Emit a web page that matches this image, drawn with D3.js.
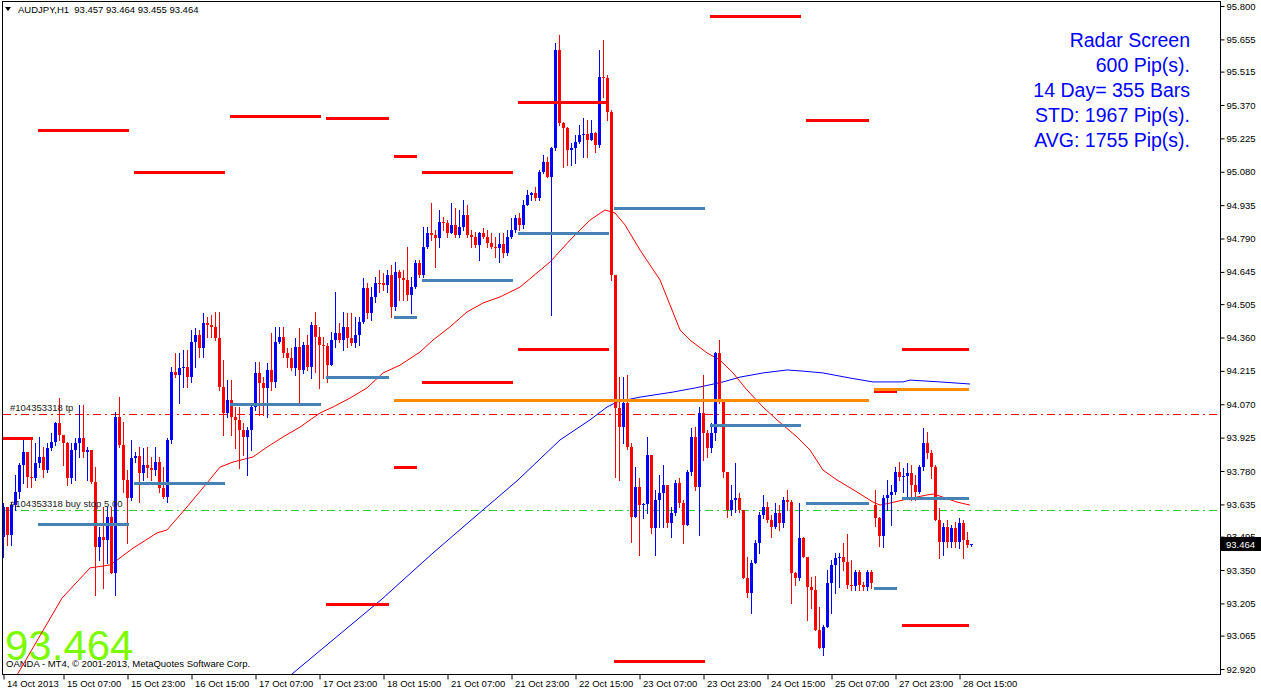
<!DOCTYPE html>
<html><head><meta charset="utf-8">
<script src="https://cdn.jsdelivr.net/npm/d3@7"></script>
<style>
html,body{margin:0;padding:0;background:#fff;}
svg{display:block;}
text{font-family:"Liberation Sans",Arial,sans-serif;}
</style></head><body>
<svg id="c" width="1261" height="691"></svg>
<script>
// ---------- DATA (AUDJPY H1) ----------
const opens = [93.494,93.624,93.502,93.632,93.689,93.806,93.863,93.754,93.750,93.815,93.841,93.784,93.880,93.906,93.989,93.937,93.902,93.750,93.871,93.902,93.924,93.863,93.871,93.732,93.450,93.494,93.480,93.580,93.337,94.015,93.893,93.741,93.663,93.837,93.845,93.771,93.806,93.793,93.784,93.819,93.706,93.667,93.915,94.210,94.197,94.227,94.232,94.188,94.340,94.371,94.314,94.423,94.414,94.406,94.358,94.145,94.032,94.088,94.015,94.002,93.958,93.928,93.958,94.058,94.206,94.162,94.141,94.219,94.167,94.340,94.362,94.293,94.271,94.227,94.319,94.219,94.327,94.232,94.414,94.362,94.327,94.325,94.240,94.349,94.380,94.349,94.406,94.358,94.336,94.371,94.427,94.575,94.466,94.536,94.597,94.595,94.588,94.631,94.492,94.644,94.618,94.610,94.545,94.579,94.684,94.631,94.753,94.814,94.805,94.792,94.862,94.857,94.814,94.849,94.805,94.840,94.892,94.805,94.796,94.762,94.814,94.796,94.770,94.753,94.749,94.766,94.727,94.796,94.827,94.879,94.849,94.936,94.979,94.988,94.966,95.079,95.122,95.057,95.183,95.609,95.292,95.270,95.174,95.183,95.209,95.240,95.244,95.218,95.248,95.196,95.492,95.487,95.339,94.631,94.054,93.971,94.075,93.884,93.580,93.710,93.632,93.636,93.850,93.532,93.654,93.684,93.719,93.554,93.598,93.728,93.641,93.546,93.776,93.928,93.710,94.032,93.945,93.880,93.945,94.293,94.080,93.776,93.611,93.654,93.663,93.611,93.315,93.250,93.380,93.467,93.589,93.624,93.567,93.537,93.598,93.554,93.654,93.645,93.337,93.315,93.489,93.406,93.276,93.263,93.089,93.011,93.102,93.293,93.372,93.402,93.406,93.385,93.285,93.280,93.341,93.285,93.276,93.341,93.632,93.576,93.498,93.663,93.676,93.689,93.776,93.754,93.758,93.771,93.719,93.689,93.797,93.902,93.858,93.797,93.567,93.472,93.537,93.472,93.532,93.472,93.554,93.480,93.457];
const highs = [93.641,93.624,93.645,93.762,93.815,93.924,93.863,93.924,93.902,93.928,93.884,93.902,93.945,93.993,94.097,93.937,93.906,93.902,93.924,94.067,94.067,93.884,93.871,93.797,93.537,93.624,93.624,93.624,94.036,94.102,93.993,93.784,93.915,93.863,93.884,93.880,93.884,93.841,93.884,93.841,93.797,93.924,94.232,94.293,94.293,94.306,94.306,94.393,94.401,94.393,94.466,94.449,94.458,94.471,94.471,94.262,94.175,94.175,94.058,94.058,93.989,93.971,94.075,94.253,94.253,94.188,94.249,94.380,94.406,94.406,94.406,94.314,94.314,94.358,94.401,94.340,94.371,94.427,94.471,94.406,94.362,94.336,94.384,94.558,94.423,94.471,94.466,94.466,94.449,94.449,94.618,94.597,94.579,94.623,94.653,94.640,94.653,94.675,94.688,94.653,94.653,94.753,94.623,94.697,94.697,94.840,94.840,94.944,94.827,94.914,94.883,94.870,94.944,94.922,94.914,94.957,94.935,94.827,94.818,94.818,94.836,94.827,94.814,94.796,94.814,94.814,94.827,94.879,94.892,94.901,94.957,95.001,94.992,95.014,95.088,95.153,95.144,95.187,95.639,95.674,95.296,95.274,95.205,95.240,95.283,95.313,95.305,95.305,95.253,95.609,95.652,95.500,95.348,94.631,94.188,94.188,94.197,93.902,93.797,93.750,93.641,93.928,93.850,93.697,93.762,93.806,93.719,93.624,93.741,93.750,93.654,93.784,93.967,93.971,94.058,94.197,93.958,93.989,94.297,94.349,94.088,93.776,93.719,93.815,93.684,93.611,93.406,93.393,93.480,93.602,93.676,93.645,93.589,93.641,93.632,93.667,93.697,93.654,93.341,93.641,93.494,93.406,93.320,93.324,93.189,93.111,93.350,93.393,93.424,93.424,93.467,93.506,93.393,93.350,93.350,93.298,93.350,93.350,93.697,93.580,93.676,93.741,93.719,93.797,93.819,93.793,93.815,93.806,93.762,93.806,93.967,93.950,93.871,93.806,93.619,93.554,93.567,93.546,93.559,93.576,93.567,93.515,93.464];
const lows = [93.407,93.459,93.459,93.611,93.663,93.728,93.710,93.710,93.741,93.797,93.754,93.776,93.871,93.893,93.915,93.806,93.719,93.728,93.741,93.841,93.841,93.741,93.728,93.242,93.393,93.272,93.380,93.337,93.242,93.884,93.689,93.467,93.654,93.819,93.645,93.741,93.754,93.741,93.762,93.689,93.663,93.645,93.902,94.188,94.075,94.145,94.145,94.167,94.232,94.275,94.275,94.362,94.362,94.349,94.132,93.937,94.015,93.937,93.880,93.793,93.850,93.762,93.871,94.045,94.023,94.023,94.015,94.132,94.145,94.336,94.275,94.232,94.219,94.197,94.080,94.206,94.219,94.184,94.210,94.141,94.184,94.167,94.240,94.319,94.340,94.306,94.319,94.327,94.319,94.327,94.423,94.445,94.436,94.514,94.558,94.566,94.558,94.449,94.480,94.523,94.523,94.523,94.466,94.575,94.623,94.623,94.749,94.783,94.666,94.753,94.827,94.796,94.814,94.796,94.796,94.827,94.796,94.753,94.753,94.697,94.792,94.753,94.749,94.710,94.688,94.710,94.718,94.792,94.818,94.827,94.836,94.936,94.957,94.957,94.957,95.075,95.057,94.458,95.174,95.283,95.101,95.109,95.109,95.118,95.205,95.144,95.144,95.218,95.166,95.187,95.405,95.305,94.610,93.754,93.741,93.902,93.876,93.472,93.580,93.415,93.576,93.598,93.511,93.415,93.537,93.537,93.537,93.494,93.589,93.624,93.467,93.546,93.762,93.697,93.502,93.828,93.841,93.863,93.915,94.075,93.754,93.580,93.589,93.602,93.602,93.315,93.233,93.163,93.380,93.424,93.576,93.559,93.494,93.532,93.524,93.537,93.611,93.207,93.285,93.306,93.406,93.133,93.185,93.089,93.011,92.981,93.102,93.163,93.250,93.276,93.350,93.272,93.263,93.263,93.263,93.263,93.263,93.272,93.541,93.454,93.450,93.611,93.546,93.680,93.741,93.689,93.667,93.654,93.654,93.684,93.784,93.837,93.750,93.567,93.402,93.415,93.450,93.450,93.450,93.446,93.402,93.450,93.455];
const closes = [93.624,93.502,93.632,93.689,93.806,93.863,93.754,93.750,93.815,93.841,93.784,93.880,93.906,93.989,93.937,93.902,93.750,93.871,93.902,93.924,93.863,93.871,93.732,93.450,93.494,93.480,93.580,93.337,94.015,93.893,93.741,93.663,93.837,93.845,93.771,93.806,93.793,93.784,93.819,93.706,93.667,93.915,94.210,94.197,94.227,94.232,94.188,94.340,94.371,94.314,94.423,94.414,94.406,94.358,94.145,94.032,94.088,94.015,94.002,93.958,93.928,93.958,94.058,94.206,94.162,94.141,94.219,94.167,94.340,94.362,94.293,94.271,94.227,94.319,94.219,94.327,94.232,94.414,94.362,94.327,94.325,94.240,94.349,94.380,94.349,94.406,94.358,94.336,94.371,94.427,94.575,94.466,94.536,94.597,94.595,94.588,94.631,94.492,94.644,94.618,94.610,94.545,94.579,94.684,94.631,94.753,94.814,94.805,94.792,94.862,94.857,94.814,94.849,94.805,94.840,94.892,94.805,94.796,94.762,94.814,94.796,94.770,94.753,94.749,94.766,94.727,94.796,94.827,94.879,94.849,94.936,94.979,94.988,94.966,95.079,95.122,95.057,95.183,95.609,95.292,95.270,95.174,95.183,95.209,95.240,95.244,95.218,95.248,95.196,95.492,95.487,95.339,94.631,94.054,93.971,94.075,93.884,93.580,93.710,93.632,93.636,93.850,93.532,93.654,93.684,93.719,93.554,93.598,93.728,93.641,93.546,93.776,93.928,93.710,94.032,93.945,93.880,93.945,94.293,94.080,93.776,93.611,93.654,93.663,93.611,93.315,93.250,93.380,93.467,93.589,93.624,93.567,93.537,93.598,93.554,93.654,93.645,93.337,93.315,93.489,93.406,93.276,93.263,93.089,93.011,93.102,93.293,93.372,93.402,93.406,93.385,93.285,93.280,93.341,93.285,93.276,93.341,93.293,93.576,93.498,93.663,93.676,93.689,93.776,93.754,93.758,93.771,93.719,93.689,93.797,93.902,93.858,93.797,93.567,93.472,93.537,93.472,93.532,93.472,93.554,93.480,93.457,93.464];

// moving averages (bar position, price)
const maRedBars   = [1.25,4.25,13,14.75,21.75,26.75,28.5,32.5,38.5,41,46,51,54.25,57.5,62.5,66,70,74.25,79.25,82.5,86.75,91,95,99.25,104.25,107.5,111.75,116,120,124.25,129.25,136.75,141.75,146.75,150.5,153,155.5,159.25,164.25,169.25,171.75,176,179.25,182.5,186,190,193.5,198.5,201.75,205,208.5,213.5,217.5,219.25,221.75,225,228.5,231,232.5,234.25,238.5,241.75];
const maRedValues = [92.829,92.916,93.176,93.228,93.359,93.372,93.393,93.445,93.511,93.524,93.624,93.728,93.797,93.819,93.841,93.884,93.928,93.971,94.032,94.058,94.097,94.141,94.206,94.240,94.297,94.349,94.406,94.471,94.510,94.536,94.579,94.688,94.783,94.870,94.914,94.901,94.849,94.740,94.610,94.393,94.349,94.293,94.262,94.206,94.132,94.058,94.002,93.928,93.871,93.784,93.741,93.689,93.645,93.632,93.641,93.654,93.667,93.676,93.680,93.671,93.645,93.632];
const maBlueBars   = [71.75,72.5,94.75,107.5,120,128.75,139.25,146.75,151,153.5,159.25,167.5,174.25,180,184.25,190,196,200,205,211.75,217.5,225,226.75,234.25,241.75];
const maBlueValues = [92.889,92.902,93.224,93.424,93.611,93.741,93.915,94.002,94.058,94.080,94.101,94.123,94.145,94.167,94.188,94.206,94.219,94.214,94.206,94.184,94.167,94.167,94.175,94.167,94.158];

// daily radar levels
const dayStart = [0,9,33,57,81,98,105,129,153,177,201,218,225];
const dayEnd   = [7,31,55,79,96,103,127,151,175,199,216,223,241];
const dayHigh  = [93.924,95.261,95.079,95.322,95.313,95.148,95.079,95.383,null,95.756,95.305,null,94.310];
const dayLow   = [null,null,null,null,93.202,93.797,94.167,94.310,92.955,null,null,94.127,93.111];
const dayMid   = [null,93.550,93.728,94.071,94.188,94.449,94.610,94.814,94.922,93.980,93.641,93.272,93.663];
const orangeStart = [98,218];
const orangeEnd   = [216,241];
const orangeValue = [94.088,94.136];

const tpLevel = 94.028, buyStopLevel = 93.609;
const lastPrice = "93.464";

const priceTicks = ["95.800","95.655","95.515","95.370","95.225","95.080","94.935","94.790","94.645","94.505","94.360","94.215","94.070","93.925","93.780","93.635","93.495","93.350","93.205","93.065","92.920"];
const timeTickBars = [0,15,31,47,63,79,95,111,127,143,159,175,191,207,223,239];
const timeTickLabels = ["14 Oct 2013","15 Oct 07:00","15 Oct 23:00","16 Oct 15:00","17 Oct 07:00","17 Oct 23:00","18 Oct 15:00","21 Oct 07:00","21 Oct 23:00","22 Oct 15:00","23 Oct 07:00","23 Oct 23:00","24 Oct 15:00","25 Oct 07:00","27 Oct 23:00","28 Oct 15:00"];
const radarLines = ["Radar Screen","600 Pip(s).","14 Day= 355 Bars","STD: 1967 Pip(s).","AVG: 1755 Pip(s)."];
const headerText = "AUDJPY,H1  93.457 93.464 93.455 93.464";

// ---------- DRAW ----------
const svg = d3.select("#c");
const L = 3, R = 1220, T = 2, B = 674;
const x = d3.scaleLinear().domain([0, 242]).range([3, 971]);
const y = d3.scaleLinear().domain([92.920, 95.800]).range([669, 6]);

svg.append("defs").append("clipPath").attr("id","plot")
  .append("rect").attr("x",L).attr("y",T).attr("width",R-L).attr("height",B-T);

// background texts (under chart lines)
svg.append("text").attr("x",5).attr("y",660).attr("font-size","42px").attr("fill","#7CFC00").text(lastPrice);
svg.append("text").attr("x",6).attr("y",667).attr("font-size","9.5px").attr("fill","#000")
  .text("OANDA - MT4, \u00A9 2001-2013, MetaQuotes Software Corp.");

const plot = svg.append("g").attr("clip-path","url(#plot)");

// trade level lines
plot.append("line").attr("x1",L).attr("x2",R).attr("y1",Math.round(y(tpLevel))+0.5).attr("y2",Math.round(y(tpLevel))+0.5)
  .attr("stroke","#FF0000").attr("stroke-dasharray","8,4,2,4");
plot.append("line").attr("x1",L).attr("x2",R).attr("y1",Math.round(y(buyStopLevel))+0.5).attr("y2",Math.round(y(buyStopLevel))+0.5)
  .attr("stroke","#32CD32").attr("stroke-dasharray","8,4,2,4");
svg.append("text").attr("x",10).attr("y",y(tpLevel)-3).attr("font-size","9.5px").attr("fill","#222").text("#104353318 tp");
svg.append("text").attr("x",10).attr("y",y(buyStopLevel)-3).attr("font-size","9.5px").attr("fill","#222").text("#104353318 buy stop 5.00");

// moving averages
const line = d3.line().x(d=>x(d[0])).y(d=>y(d[1]));
plot.append("path").datum(maBlueBars.map((b,i)=>[b,maBlueValues[i]])).attr("d",line)
  .attr("fill","none").attr("stroke","#0000FF").attr("stroke-width",1);
plot.append("path").datum(maRedBars.map((b,i)=>[b,maRedValues[i]])).attr("d",line)
  .attr("fill","none").attr("stroke","#FF0000").attr("stroke-width",1);

// candles
const idx = d3.range(closes.length);
const cg = plot.append("g");
idx.forEach(i=>{
  const cx = Math.round(x(i));
  const up = closes[i] >= opens[i];
  const col = up ? "#0000FF" : "#FF0000";
  const yh = Math.round(y(highs[i])), yl = Math.round(y(lows[i]));
  cg.append("rect").attr("x",cx).attr("y",yh).attr("width",1).attr("height",Math.max(1,yl-yh+1)).attr("fill",col);
  const yo = Math.round(y(opens[i])), yc = Math.round(y(closes[i]));
  cg.append("rect").attr("x",cx-1).attr("y",Math.min(yo,yc)).attr("width",3).attr("height",Math.max(1,Math.abs(yo-yc))).attr("fill",col);
});

// radar level segments
function seg(s,e,v,col){
  plot.append("rect").attr("x",Math.round(x(s))-1).attr("y",Math.round(y(v))-1)
    .attr("width",Math.round(x(e))-Math.round(x(s))+3).attr("height",3).attr("fill",col);
}
dayStart.forEach((s,i)=>{
  if(dayMid[i]!==null) seg(s,dayEnd[i],dayMid[i],"#4682B4");
});
orangeStart.forEach((s,i)=>seg(s,orangeEnd[i],orangeValue[i],"#FF8C00"));
dayStart.forEach((s,i)=>{
  if(dayHigh[i]!==null) seg(s,dayEnd[i],dayHigh[i],"#FF0000");
  if(dayLow[i]!==null && i!==11) seg(s,dayEnd[i],dayLow[i],"#FF0000");
});
seg(dayStart[11],dayEnd[11],dayLow[11],"#FF0000");
seg(orangeStart[1],orangeEnd[1],orangeValue[1],"#FF8C00");

// frame
svg.append("rect").attr("x",2.5).attr("y",1.5).attr("width",1218).attr("height",673)
  .attr("fill","none").attr("stroke","#000").attr("stroke-width",1);

// right price axis
const ya = svg.append("g").attr("transform","translate(1220.5,0)")
  .call(d3.axisRight(y).tickValues(priceTicks.map(Number)).tickFormat((d,i)=>priceTicks[i]).tickSize(4).tickPadding(2));
ya.select(".domain").remove();
ya.selectAll("text").attr("font-size","9.5px").attr("font-family","Liberation Sans, Arial, sans-serif").attr("fill","#000");
ya.selectAll("line").attr("stroke","#000");

// current price box
const yp = y(+lastPrice);
svg.append("rect").attr("x",1221).attr("y",Math.round(yp)-7).attr("width",40).attr("height",14).attr("fill","#000");
svg.append("text").attr("x",1226).attr("y",Math.round(yp)+4).attr("font-size","9.5px").attr("fill","#fff").text(lastPrice);

// bottom time axis
const xa = svg.append("g").attr("transform","translate(0.5,674.5)")
  .call(d3.axisBottom(x).tickValues(timeTickBars).tickFormat((d,i)=>timeTickLabels[i]).tickSize(5));
xa.select(".domain").remove();
xa.selectAll("line").attr("stroke","#000");
xa.selectAll("text").attr("text-anchor","start").attr("x",3).attr("y",12.5).attr("dy",null)
  .attr("font-size","9.5px").attr("font-family","Liberation Sans, Arial, sans-serif").attr("fill","#000");

// header
svg.append("path").attr("d","M5,7 L11,7 L8,11 Z").attr("fill","#000");
svg.append("text").attr("x",18).attr("y",13).attr("font-size","9.5px").attr("fill","#000")
  .style("white-space","pre").text(headerText);

// radar screen text
radarLines.forEach((t,i)=>{
  svg.append("text").attr("x",1190).attr("y",47+25*i).attr("text-anchor","end")
    .attr("font-size","19.5px").attr("fill","#0000FF").text(t);
});
</script>
</body></html>
